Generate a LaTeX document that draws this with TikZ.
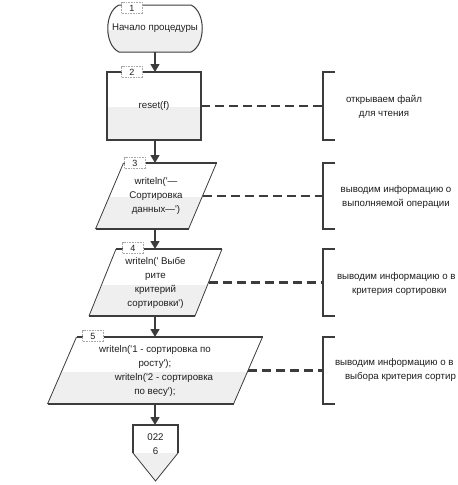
\documentclass[tikz,border=0pt]{standalone}
\usepackage{fontspec}
\setmainfont{Liberation Sans}[Ligatures=TeXOff]
\usetikzlibrary{calc,arrows.meta}
\definecolor{dk}{HTML}{3C3C3C}
\definecolor{lo}{HTML}{EFEFEF}
\definecolor{tx}{HTML}{1E1E1E}
\definecolor{lb}{HTML}{A8A8A8}
\newcommand\twofill[2]{\fill[white] #1;\begin{scope}\clip #1;\fill[lo] (0,#2) rectangle (458,485);\end{scope}}
\tikzset{
  every node/.style={text=tx, inner sep=0pt, outer sep=0pt, font=\fontsize{9.7}{14}\selectfont},
  blk/.style={align=center},
  thickedge/.style={draw=dk, line width=1.9pt},
  thinedge/.style={draw=dk, line width=0.8pt},
  flow/.style={draw=dk, line width=1.3pt, -{Triangle[length=8pt,width=9pt]}},
  note/.style={draw=dk, line width=2.6pt, dash pattern=on 9pt off 5pt},
  brk/.style={draw=dk, line width=1.9pt},
  brkbox/.style={minimum width=12pt},
  numlbl/.style={fill=white, draw=lb, densely dotted, line width=0.6pt, minimum width=21pt, minimum height=11pt, font=\fontsize{9}{9}\selectfont}
}
\begin{document}
\begin{tikzpicture}[x=1pt,y=-1pt]
\useasboundingbox (0,0) rectangle (458,485);
\clip (0,0) rectangle (458,485);

% ---- shapes ----
% terminator
\twofill{(119,5) -- (191,5) .. controls (206,12) and (206,45) .. (191,52) -- (119,52) .. controls (104,45) and (104,12) .. (119,5) -- cycle}{30}
\draw[dk, line width=1pt] (119,5) -- (191,5) .. controls (206,12) and (206,45) .. (191,52) -- (119,52) .. controls (104,45) and (104,12) .. (119,5) -- cycle;
% process
\twofill{(107,72) rectangle (201,140)}{107}
\draw[thickedge] (107,72) rectangle (201,140);
% parallelogram 3
\twofill{(123.5,163) -- (216.5,163) -- (188.5,229) -- (95.5,229) -- cycle}{197}
\draw[thickedge] (123.5,163) -- (216.5,163) (188.5,229) -- (95.5,229);
\draw[thinedge] (216.5,163) -- (188.5,229) (95.5,229) -- (123.5,163);
% parallelogram 4
\twofill{(116,249) -- (222,249) -- (195,316) -- (89,316) -- cycle}{285}
\draw[thickedge] (116,249) -- (222,249) (195,316) -- (89,316);
\draw[thinedge] (222,249) -- (195,316) (89,316) -- (116,249);
% parallelogram 5
\twofill{(76.5,337) -- (262.5,337) -- (233.5,404) -- (47.5,404) -- cycle}{372}
\draw[thickedge] (76.5,337) -- (262.5,337) (233.5,404) -- (47.5,404);
\draw[thinedge] (262.5,337) -- (233.5,404) (47.5,404) -- (76.5,337);
% off-page connector
\twofill{(133,425) -- (178,425) -- (178,453) -- (155.5,481) -- (133,453) -- cycle}{453}
\draw[thickedge] (133,453) -- (133,425) -- (178,425) -- (178,453);
\draw[thinedge] (178,453) -- (155.5,481) -- (133,453);

% ---- block nodes ----
\node[blk, minimum width=98pt, minimum height=47pt] (t1) at (155,28.5) {Начало процедуры};
\node[blk, minimum width=94pt, minimum height=68pt] (b2) at (154,106) {reset(f)};
\node[blk, minimum width=93pt, minimum height=66pt] (p3) at (156,196) {writeln('—\\Сортировка\\данных—')};
\node[blk, minimum width=106pt, minimum height=67pt] (p4) at (155.5,282.5) {writeln(' Выбе\\рите\\критерий\\сортировки')};
\node[blk, minimum width=186pt, minimum height=67pt] (p5) at (155,370.5) {writeln('1 - сортировка по\\росту');\\\hspace*{18pt}writeln('2 - сортировка\\по весу');};
\node[blk, minimum width=45pt, minimum height=38pt] (o6) at (155.5,444) {022\\6};

% ---- connectors ----
\draw[flow] (t1.south) -- (t1.south |- b2.north);
\draw[flow] (b2.south -| t1.south) -- (t1.south |- p3.north);
\draw[flow] (p3.south -| t1.south) -- (t1.south |- p4.north);
\draw[flow] (p4.south -| t1.south) -- (t1.south |- p5.north);
\draw[flow] (p5.south -| t1.south) -- (t1.south |- o6.north);

% ---- number labels ----
\node[numlbl] (n1) at (132,8) {1};
\node[numlbl] (n2) at (132,72) {2};
\node[numlbl] (n3) at (135,163) {3};
\node[numlbl] (n4) at (133,248) {4};
\node[numlbl] (n5) at (93,336) {5};

% ---- comment brackets ----
\node[brkbox, minimum height=68pt] (k2) at (329,106) {};
\node[brkbox, minimum height=66pt] (k3) at (329,196) {};
\node[brkbox, minimum height=67pt] (k4) at (329,282.5) {};
\node[brkbox, minimum height=67pt] (k5) at (329,370.5) {};
\foreach \k in {k2,k3,k4,k5}
  \draw[brk] (\k.north east) -- (\k.north west) -- (\k.south west) -- (\k.south east);

\draw[note] (b2.east) -- (k2.west);
\draw[note] (p3.east) -- (k3.west);
\draw[note] (p4.east) -- (k4.west);
\draw[note] (p5.east) -- (k5.west);

\node[align=center] (a2) at (384,106.5) {открываем файл\\для чтения};
\node[align=center] (a3) at (396,196.5) {выводим информацию о\\выполняемой операции};
\node[align=left, anchor=west] (a4) at (337,283.5) {выводим информацию о в\\\hspace*{15pt}критерия сортировки};
\node[align=left, anchor=west] (a5) at (335,370) {выводим информацию о в\\\hspace*{10pt}выбора критерия сортир};
\end{tikzpicture}
\end{document}
